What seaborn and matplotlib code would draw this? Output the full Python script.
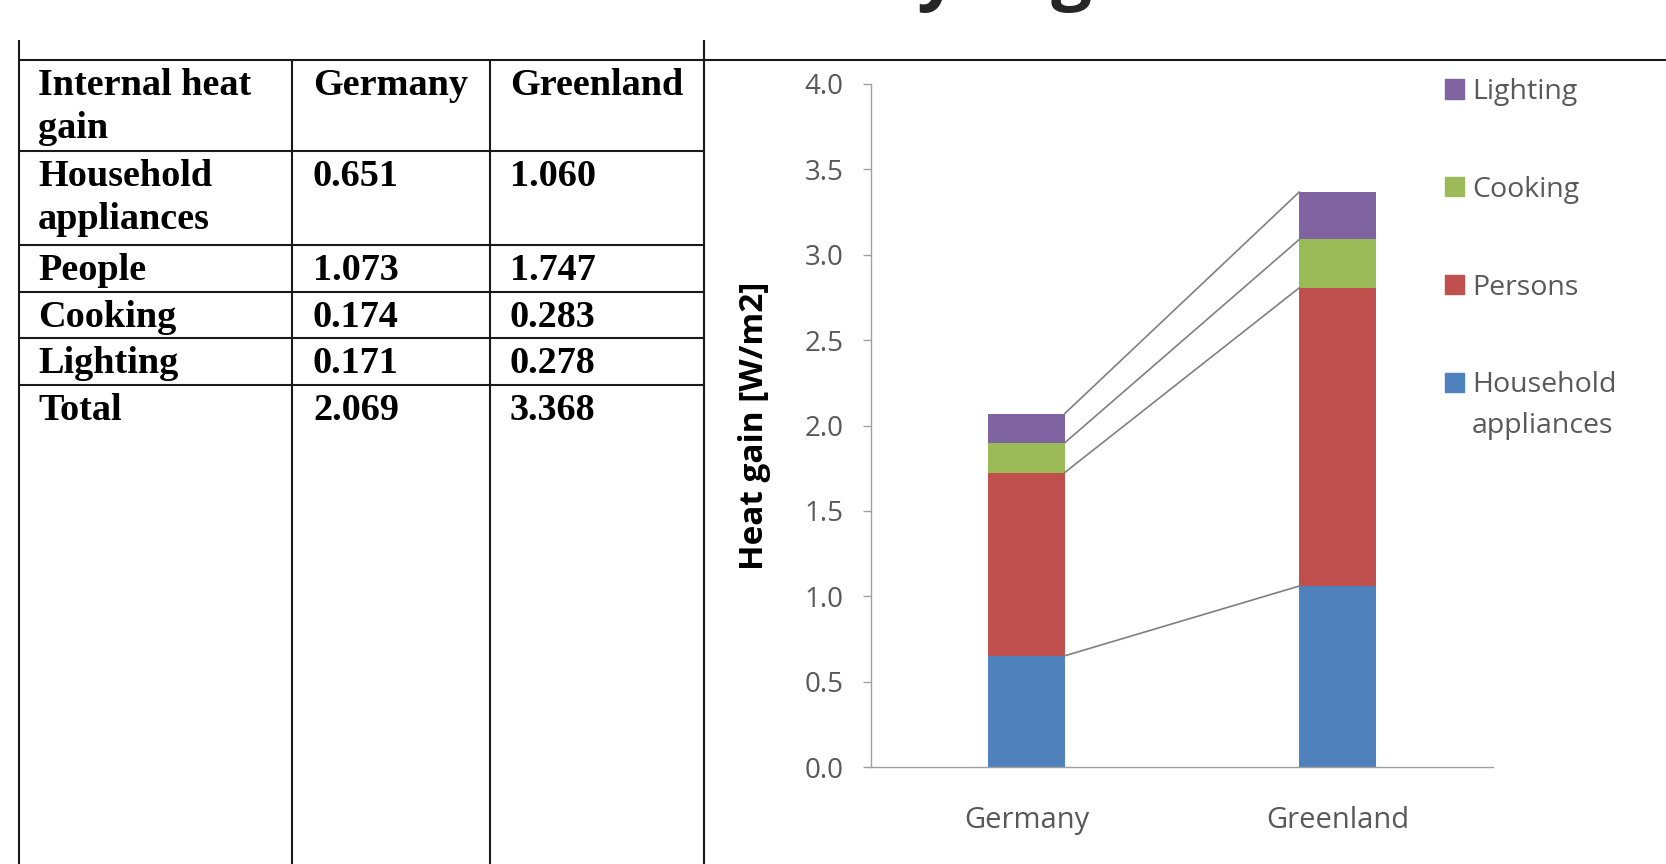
import numpy as np
import matplotlib.pyplot as plt
import seaborn as sns
from matplotlib.patches import Patch

categories = ["Germany", "Greenland"]
household = [0.651, 1.060]
persons = [1.073, 1.747]
cooking = [0.174, 0.283]
lighting = [0.171, 0.278]

table_row_names = [["Household", "appliances"], ["People"], ["Cooking"], ["Lighting"], ["Total"]]
legend_names = ["Lighting", "Cooking", "Persons", "Household"]
colors = ["#4F81BD", "#C0504D", "#9BBB59", "#8064A2"]

sns.set_style("white")
plt.rcParams["font.family"] = ["Open Sans", "DejaVu Sans"]

W, H = 1666, 864
fig = plt.figure(figsize=(W / 100, H / 100), dpi=100)

# background layer in pixel coords for the table
bg = fig.add_axes([0, 0, 1, 1])
bg.set_xlim(0, W)
bg.set_ylim(H, 0)
bg.axis("off")

line_kw = dict(color="#1a1a1a", lw=1.5, solid_capstyle="butt")
left, c1, c2, right = 19, 292, 490, 704
top_line = 60
row_lines = [151, 245, 292, 338, 385]
bg.plot([left, W], [top_line, top_line], **line_kw)
bg.plot([left, left], [40, H], **line_kw)
bg.plot([right, right], [40, H], **line_kw)
for x in (c1, c2):
    bg.plot([x, x], [top_line, H], **line_kw)
for y in row_lines:
    bg.plot([left, right], [y, y], **line_kw)

tkw = dict(family=["Liberation Serif", "DejaVu Serif"], fontweight="bold", fontsize=27.5, va="baseline", color="black")
cell_tops = [top_line] + row_lines
# header
bg.text(left + 19, top_line + 35, "Internal heat", **tkw)
bg.text(left + 19, top_line + 78, "gain", **tkw)
bg.text(c1 + 21, top_line + 35, categories[0], **tkw)
bg.text(c2 + 20, top_line + 35, categories[1], **tkw)

layers = [household, persons, cooking, lighting]
totals = np.sum(layers, axis=0)
table_vals = [household, persons, cooking, lighting, totals]
for r, (names, vals) in enumerate(zip(table_row_names, table_vals)):
    y0 = cell_tops[r + 1] + 35
    for k, nm in enumerate(names):
        bg.text(left + 19, y0 + 43 * k, nm, **tkw)
    bg.text(c1 + 21, y0, f"{vals[0]:.3f}", **tkw)
    bg.text(c2 + 20, y0, f"{vals[1]:.3f}", **tkw)

# partially visible title at the top edge
fig.text(873 / W, 1 + 4 / H, "by region", fontsize=52, fontweight="bold", va="baseline", ha="left")

# chart
ax = fig.add_axes([871 / W, 1 - 767 / H, 622 / W, 683 / H])
ax.patch.set_alpha(0)
cum = np.cumsum(layers, axis=0)
bar_w = 0.245
for i in reversed(range(len(layers))):
    sns.barplot(x=categories, y=cum[i], color=colors[i], width=bar_w,
                saturation=1, linewidth=0, ax=ax, zorder=2)

half = bar_w / 2
for i in range(len(layers)):
    ax.plot([0 + half, 1 - half], cum[i], color="#808080", lw=1.2, zorder=3)

ax.set_xlim(-0.5, 1.5)
ax.set_ylim(0, 4)
ax.set_yticks(np.arange(0, 4.01, 0.5))
ax.set_yticklabels([f"{v:.1f}" for v in np.arange(0, 4.01, 0.5)])
sns.despine(ax=ax)
for s in ("left", "bottom"):
    ax.spines[s].set_color("#A0A0A0")
    ax.spines[s].set_linewidth(1)
ax.tick_params(axis="y", left=True, length=5.8, width=1, color="#A0A0A0", pad=14, labelsize=20, labelcolor="#595959")
ax.tick_params(axis="x", length=0, pad=28, labelsize=21, labelcolor="#595959")
ax.set_xlabel("")
ax.set_ylabel("Heat gain [W/m2]", fontsize=24, fontweight="bold", color="black")
ax.yaxis.set_label_coords(-0.160, 0.5)

handles = [Patch(color=colors[i]) for i in [3, 2, 1, 0]]
leg = ax.legend(handles, legend_names, loc="upper left",
                bbox_to_anchor=(1445 / W, 1 - 78 / H), bbox_transform=fig.transFigure,
                frameon=False, fontsize=20.5, handlelength=0.65, handleheight=0.65,
                handletextpad=0.3, labelspacing=2.45, borderpad=0, borderaxespad=0)
for t in leg.get_texts():
    t.set_color("#595959")
ax.annotate("appliances", xy=(0, 0), xycoords=leg.get_texts()[3], xytext=(0, -41),
            textcoords="offset pixels", va="bottom", ha="left", fontsize=20.5,
            color="#595959", zorder=10, annotation_clip=False)

fig.savefig("out.png", dpi=100)
